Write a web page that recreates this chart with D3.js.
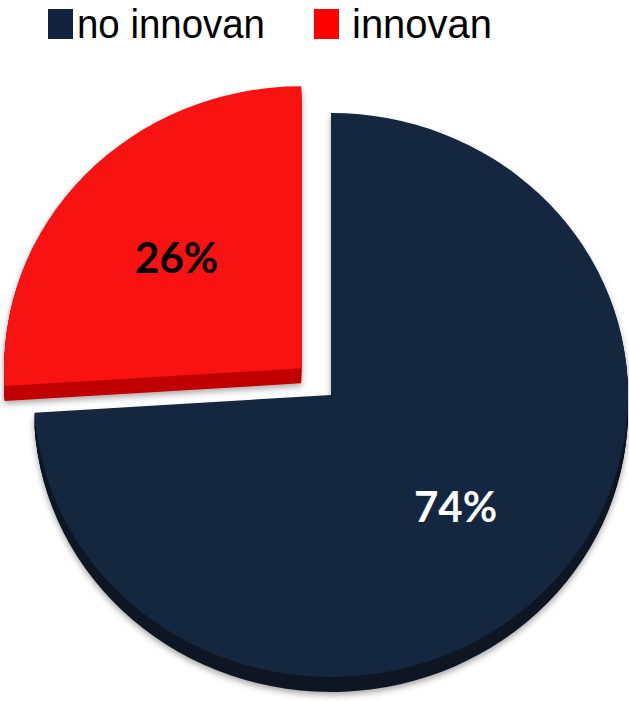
<!DOCTYPE html>
<html><head><meta charset="utf-8">
<script src="https://cdn.jsdelivr.net/npm/d3@7"></script>
<style>html,body{margin:0;padding:0;background:#fff}svg{display:block}</style>
</head><body>
<svg id="c" width="629" height="701"></svg>
<script>
const categories = ["no innovan", "innovan"];
const values = [74, 26];
const labels = ["74%", "26%"];
const topColors = ["#15263f", "#f81212"];
const sideColors = ["#0b1524", "#c00000"];
const legendColors = ["#12233d", "#ff0000"];
const explode = [0, 41];

const W = 629, H = 701;
const cx = 331, cy = 395, rx = 297, ry = 282, depth = 15;
const k = ry / rx;
const svg = d3.select("#c");

const defs = svg.append("defs");
const f = defs.append("filter").attr("id","sh").attr("x","-10%").attr("y","-10%").attr("width","120%").attr("height","130%");
f.append("feDropShadow").attr("dx",0).attr("dy",3).attr("stdDeviation",3).attr("flood-color","#000").attr("flood-opacity",0.35);

const pie = d3.pie().sort(null).startAngle(0).endAngle(2*Math.PI);
const arcs = pie(values);
const arc = d3.arc().innerRadius(0).outerRadius(rx);
const labelArc = d3.arc().innerRadius(rx*0.575).outerRadius(rx*0.575);

function off(d, i) {
  const m = (d.startAngle + d.endAngle) / 2;
  return [Math.sin(m) * explode[i], -Math.cos(m) * explode[i]];
}

// side faces
const sideG = svg.append("g").attr("filter","url(#sh)");
for (let dd = depth; dd >= 1; dd -= 1) {
  const g = sideG.append("g").attr("transform", `translate(${cx},${cy+dd}) scale(1,${k})`);
  g.selectAll("path").data(arcs).join("path")
    .attr("transform", (d,i) => `translate(${off(d,i)})`)
    .attr("d", arc)
    .attr("fill", (d,i) => sideColors[i]);
}
// top faces
const topG = svg.append("g").attr("transform", `translate(${cx},${cy}) scale(1,${k})`);
topG.selectAll("path").data(arcs).join("path")
  .attr("transform", (d,i) => `translate(${off(d,i)})`)
  .attr("d", arc)
  .attr("fill", (d,i) => topColors[i]);

// labels
svg.append("g").selectAll("text").data(arcs).join("text")
  .attr("x", (d,i) => cx + labelArc.centroid(d)[0] + off(d,i)[0])
  .attr("y", (d,i) => cy + (labelArc.centroid(d)[1] + off(d,i)[1]) * k)
  .attr("text-anchor","middle").attr("dominant-baseline","central")
  .attr("font-family","Lato, 'Open Sans', sans-serif").attr("font-weight","bold")
  .attr("font-size", 42)
  .attr("fill", (d,i) => i === 0 ? "#ffffff" : "#000000")
  .text((d,i) => labels[i]);

// legend
const legX = [48, 314];
const legTextX = [77, 352];
const legTextW = [188, 140];
const lg = svg.append("g");
categories.forEach((c, i) => {
  lg.append("rect").attr("x", legX[i]).attr("y", 9).attr("width", 25).attr("height", 30).attr("fill", legendColors[i]);
  lg.append("text").attr("x", legTextX[i]).attr("y", 38)
    .attr("font-family","'Liberation Sans', Arial, sans-serif").attr("font-size", 41)
    .attr("textLength", legTextW[i]).attr("lengthAdjust","spacingAndGlyphs")
    .attr("fill","#000").text(c);
});
</script>
</body></html>
